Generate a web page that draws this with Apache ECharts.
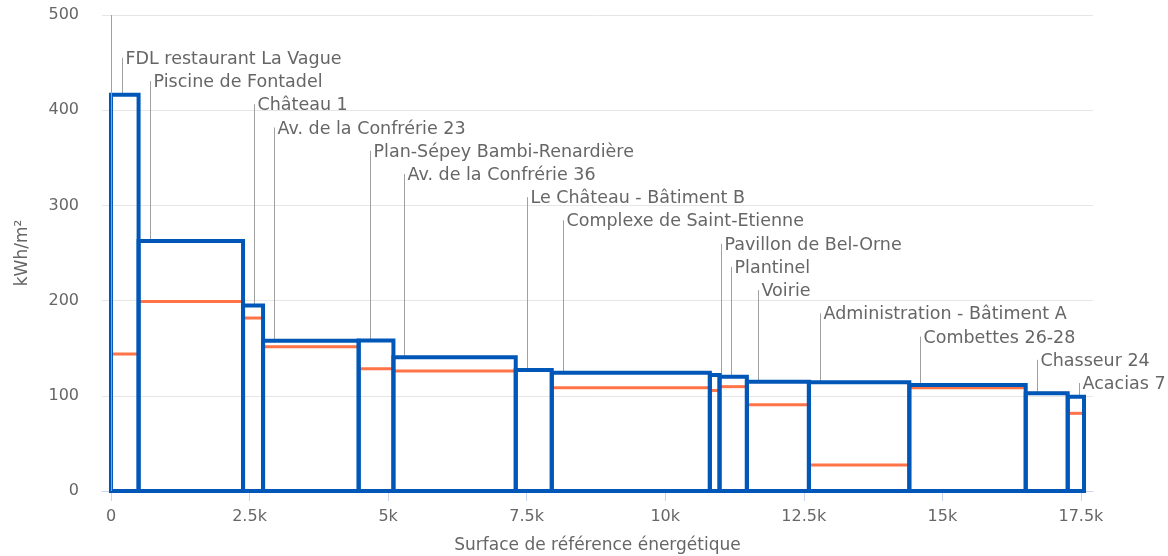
<!DOCTYPE html>
<html>
<head>
<meta charset="utf-8">
<title>Consommation par bâtiment</title>
<script src="https://cdn.jsdelivr.net/npm/echarts@6/dist/echarts.min.js"></script>
<style>
  html, body { margin: 0; padding: 0; background: #ffffff; }
  #chart { width: 1168px; height: 556px; }
</style>
</head>
<body>
<div id="chart"></div>
<script>
// Buildings, in the order they are laid out along the x axis
const buildings = [
  'FDL restaurant La Vague',
  'Piscine de Fontadel',
  'Château 1',
  'Av. de la Confrérie 23',
  'Plan-Sépey Bambi-Renardière',
  'Av. de la Confrérie 36',
  'Le Château - Bâtiment B',
  'Complexe de Saint-Etienne',
  'Pavillon de Bel-Orne',
  'Plantinel',
  'Voirie',
  'Administration - Bâtiment A',
  'Combettes 26-28',
  'Chasseur 24',
  'Acacias 7'
];

// Energy reference area of each building (m²) -> bar width
const surfaces = [498, 1885, 361, 1725, 627, 2207, 650, 2852, 175, 493, 1119, 1812, 2100, 758, 294];

// Measured consumption (kWh/m²) -> bar height
const consumption = [416.3, 262.6, 194.9, 157.8, 158.1, 140.4, 127.1, 124.3, 121.8, 120.1, 114.8, 114.2, 111.3, 102.6, 99.1];

// Reference value (kWh/m²) -> orange line inside each bar
const reference = [143.9, 199.0, 181.7, 151.6, 128.5, 126.0, 127.1, 108.5, 105.6, 109.6, 90.7, 27.3, 108.5, 102.6, 81.6];

// Axis ticks
const xTicks = [0, 2500, 5000, 7500, 10000, 12500, 15000, 17500];
const yMax = 500;
const yInterval = 100;

// Cumulative start of each bar along the surface axis
const rows = [];
let acc = 0;
for (let i = 0; i < buildings.length; i++) {
  rows.push([acc, acc + surfaces[i], consumption[i], reference[i], i]);
  acc += surfaces[i];
}
const total = acc;
const pad = 162; // breathing room on both ends of the x axis

const BLUE = '#0057b7';
const ORANGE = '#ff7347';
const TEXT = '#666666';
const LEADER = '#a0a0a0';

const chart = echarts.init(document.getElementById('chart'), null, { renderer: 'canvas' });

function renderBox(params, api) {
  const x0 = api.value(0), x1 = api.value(1), v = api.value(2);
  const p0 = api.coord([x0, 0]);
  const p1 = api.coord([x1, v]);
  return {
    type: 'rect',
    shape: { x: p0[0], y: p1[1], width: p1[0] - p0[0], height: p0[1] - p1[1] },
    style: { fill: 'none', stroke: BLUE, lineWidth: 4 }
  };
}

function renderReference(params, api) {
  const x0 = api.value(0), x1 = api.value(1), t = api.value(3);
  const a = api.coord([x0, t]);
  const b = api.coord([x1, t]);
  return {
    type: 'line',
    shape: { x1: a[0], y1: a[1], x2: b[0], y2: b[1] },
    style: { stroke: ORANGE, lineWidth: 3 }
  };
}

function renderLabel(params, api) {
  const x0 = api.value(0), v = api.value(2), idx = api.value(4);
  const base = api.coord([x0, v]);
  const lx = Math.round(base[0] + 11) + 0.5;
  // labels are staggered downward, one row per building
  const top = api.coord([0, 455 - 24.4 * idx])[1];
  return {
    type: 'group',
    children: [
      {
        type: 'line',
        shape: { x1: lx, y1: top, x2: lx, y2: base[1] },
        style: { stroke: LEADER, lineWidth: 1 }
      },
      {
        type: 'text',
        x: lx + 3,
        y: top + 1.5,
        style: {
          text: buildings[idx],
          fill: TEXT,
          font: '17.5px "DejaVu Sans", sans-serif',
          textAlign: 'left',
          textVerticalAlign: 'middle'
        }
      }
    ]
  };
}

const option = {
  animation: false,
  backgroundColor: '#ffffff',
  grid: { left: 102, right: 75, top: 15, bottom: 65, containLabel: false, outerBoundsMode: 'none' },
  xAxis: {
    type: 'value',
    min: -pad,
    max: total + pad,
    name: 'Surface de référence énergétique',
    nameLocation: 'middle',
    nameGap: 46,
    nameTextStyle: { color: TEXT, fontSize: 17, fontFamily: 'DejaVu Sans' },
    axisLine: { show: true, lineStyle: { color: '#ccd6eb', width: 1 } },
    axisTick: { show: true, length: 10, customValues: xTicks, lineStyle: { color: '#ccd6eb' } },
    axisLabel: {
      customValues: xTicks,
      margin: 18,
      color: TEXT,
      fontSize: 16,
      fontFamily: 'DejaVu Sans',
      formatter: v => (v === 0 ? '0' : (v / 1000) + 'k')
    },
    splitLine: { show: false }
  },
  yAxis: {
    type: 'value',
    min: 0,
    max: yMax,
    interval: yInterval,
    name: 'kWh/m²',
    nameLocation: 'middle',
    nameGap: 71,
    nameTextStyle: { color: TEXT, fontSize: 17, fontFamily: 'DejaVu Sans' },
    axisLine: { show: false },
    axisTick: { show: false },
    axisLabel: { margin: 23, color: TEXT, fontSize: 16, fontFamily: 'DejaVu Sans', padding: [6, 0, 0, 0] },
    splitLine: { lineStyle: { color: '#e6e6e6', width: 1 } }
  },
  series: [
    {
      name: 'Étiquettes',
      type: 'custom',
      z: 1,
      silent: true,
      renderItem: renderLabel,
      data: rows,
      markLine: {
        silent: true,
        symbol: 'none',
        label: { show: false },
        lineStyle: { color: LEADER, width: 1, type: 'solid' },
        data: [{ xAxis: 0 }]
      }
    },
    {
      name: 'Valeur de référence',
      type: 'custom',
      z: 2,
      renderItem: renderReference,
      data: rows
    },
    {
      name: 'Consommation',
      type: 'custom',
      z: 3,
      renderItem: renderBox,
      data: rows
    }
  ]
};

chart.setOption(option);
</script>
</body>
</html>
